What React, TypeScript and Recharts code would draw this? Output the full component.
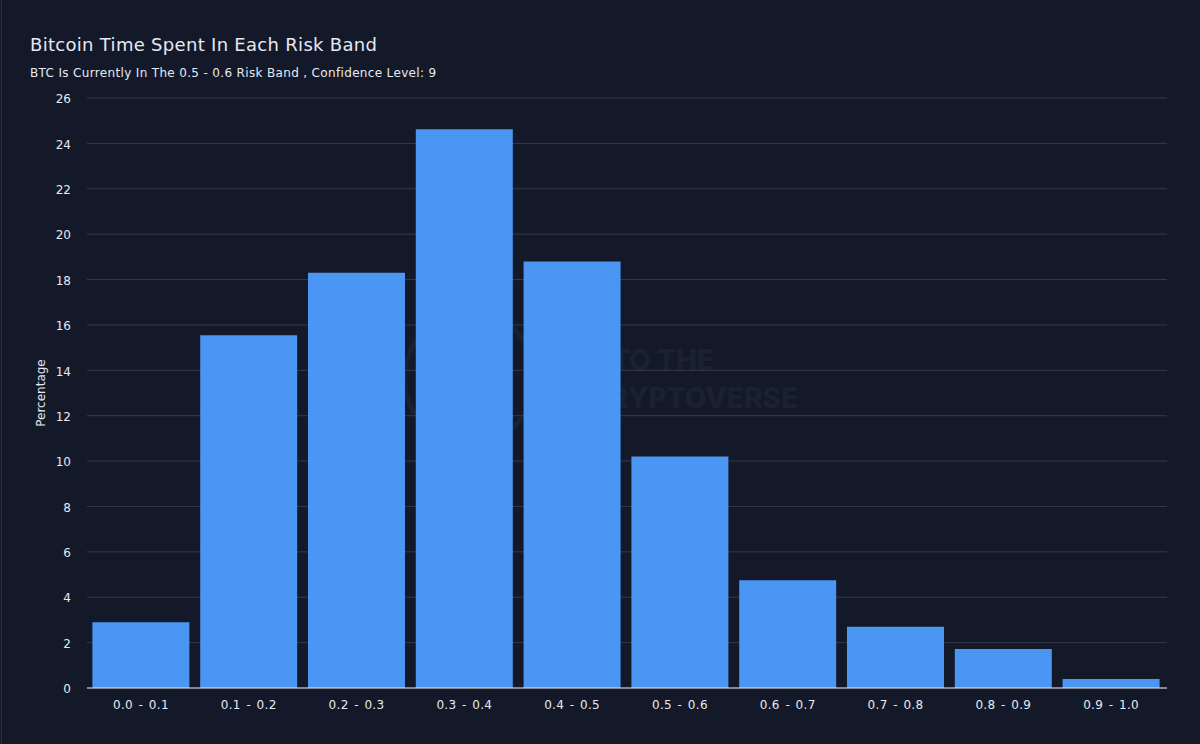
import { BarChart, Bar, XAxis, YAxis, CartesianGrid } from "recharts";

const bands = ["0.0 - 0.1", "0.1 - 0.2", "0.2 - 0.3", "0.3 - 0.4", "0.4 - 0.5", "0.5 - 0.6", "0.6 - 0.7", "0.7 - 0.8", "0.8 - 0.9", "0.9 - 1.0"];
const percentages = [2.9, 15.55, 18.3, 24.62, 18.8, 10.2, 4.75, 2.7, 1.72, 0.4];
const yTicks = [0, 2, 4, 6, 8, 10, 12, 14, 16, 18, 20, 22, 24, 26];

const data = bands.map((band, i) => ({ band, pct: percentages[i] }));
const font = '"DejaVu Sans", sans-serif';
const textColor = "#e6e9f0";
const markColor = "#1a2130";

export default function App() {
  return (
    <div style={{ position: "absolute", left: 0, top: 0, width: 1200, height: 744, background: "#131929", overflow: "hidden", fontFamily: font }}>
      <div style={{ position: "absolute", left: 1, top: 0, width: 1, height: 744, background: "#2a3040" }} />
      <div style={{ position: "absolute", left: 30, top: 33, fontSize: 18, lineHeight: "24px", letterSpacing: 0.3, color: textColor, whiteSpace: "nowrap" }}>
        Bitcoin Time Spent In Each Risk Band
      </div>
      <div style={{ position: "absolute", left: 30, top: 64, fontSize: 12, lineHeight: "18px", letterSpacing: 0.34, color: textColor, whiteSpace: "nowrap" }}>
        BTC Is Currently In The 0.5 - 0.6 Risk Band , Confidence Level: 9
      </div>
      {/* watermark, mostly hidden behind the bars */}
      <div style={{ position: "absolute", left: 402, top: 310, width: 126, height: 126, borderRadius: "50%", border: `5px solid ${markColor}` }} />
      <div style={{ position: "absolute", left: 410, top: 343, fontSize: 28, lineHeight: "34px", fontWeight: 800, fontFamily: "Inter, sans-serif", color: markColor, whiteSpace: "nowrap", textAlign: "right", width: 304 }}>
        TO THE
      </div>
      <div style={{ position: "absolute", left: 400, top: 381, fontSize: 28, lineHeight: "34px", fontWeight: 800, fontFamily: "Inter, sans-serif", color: markColor, whiteSpace: "nowrap", textAlign: "right", width: 398 }}>
        CRYPTOVERSE
      </div>
      <div style={{ position: "absolute", left: 0, top: 0 }}>
        <BarChart
          width={1200}
          height={744}
          data={data}
          margin={{ top: 98, right: 33, bottom: 0, left: 27 }}
          barCategoryGap="5%"
        >
          <CartesianGrid horizontal vertical={false} stroke="#333a4a" strokeWidth={1} />
          <XAxis
            dataKey="band"
            interval={0}
            height={56}
            padding={{ left: 0, right: 2 }}
            stroke={textColor}
            tickLine={false}
            tickMargin={6}
            tick={{ fill: textColor, fontSize: 12, fontFamily: font, letterSpacing: 0.3, wordSpacing: 1.5 }}
          />
          <YAxis
            width={60}
            domain={[0, 26]}
            ticks={yTicks}
            interval={0}
            axisLine={false}
            tickLine={false}
            tickMargin={10}
            tick={{ fill: textColor, fontSize: 12, fontFamily: font, dy: 1 }}
            label={{ value: "Percentage", angle: -90, position: "insideLeft", offset: 14, textAnchor: "middle", fill: textColor, fontSize: 12, fontFamily: font }}
          />
          <Bar dataKey="pct" fill="#4b96f3" isAnimationActive={false} />
        </BarChart>
      </div>
    </div>
  );
}
